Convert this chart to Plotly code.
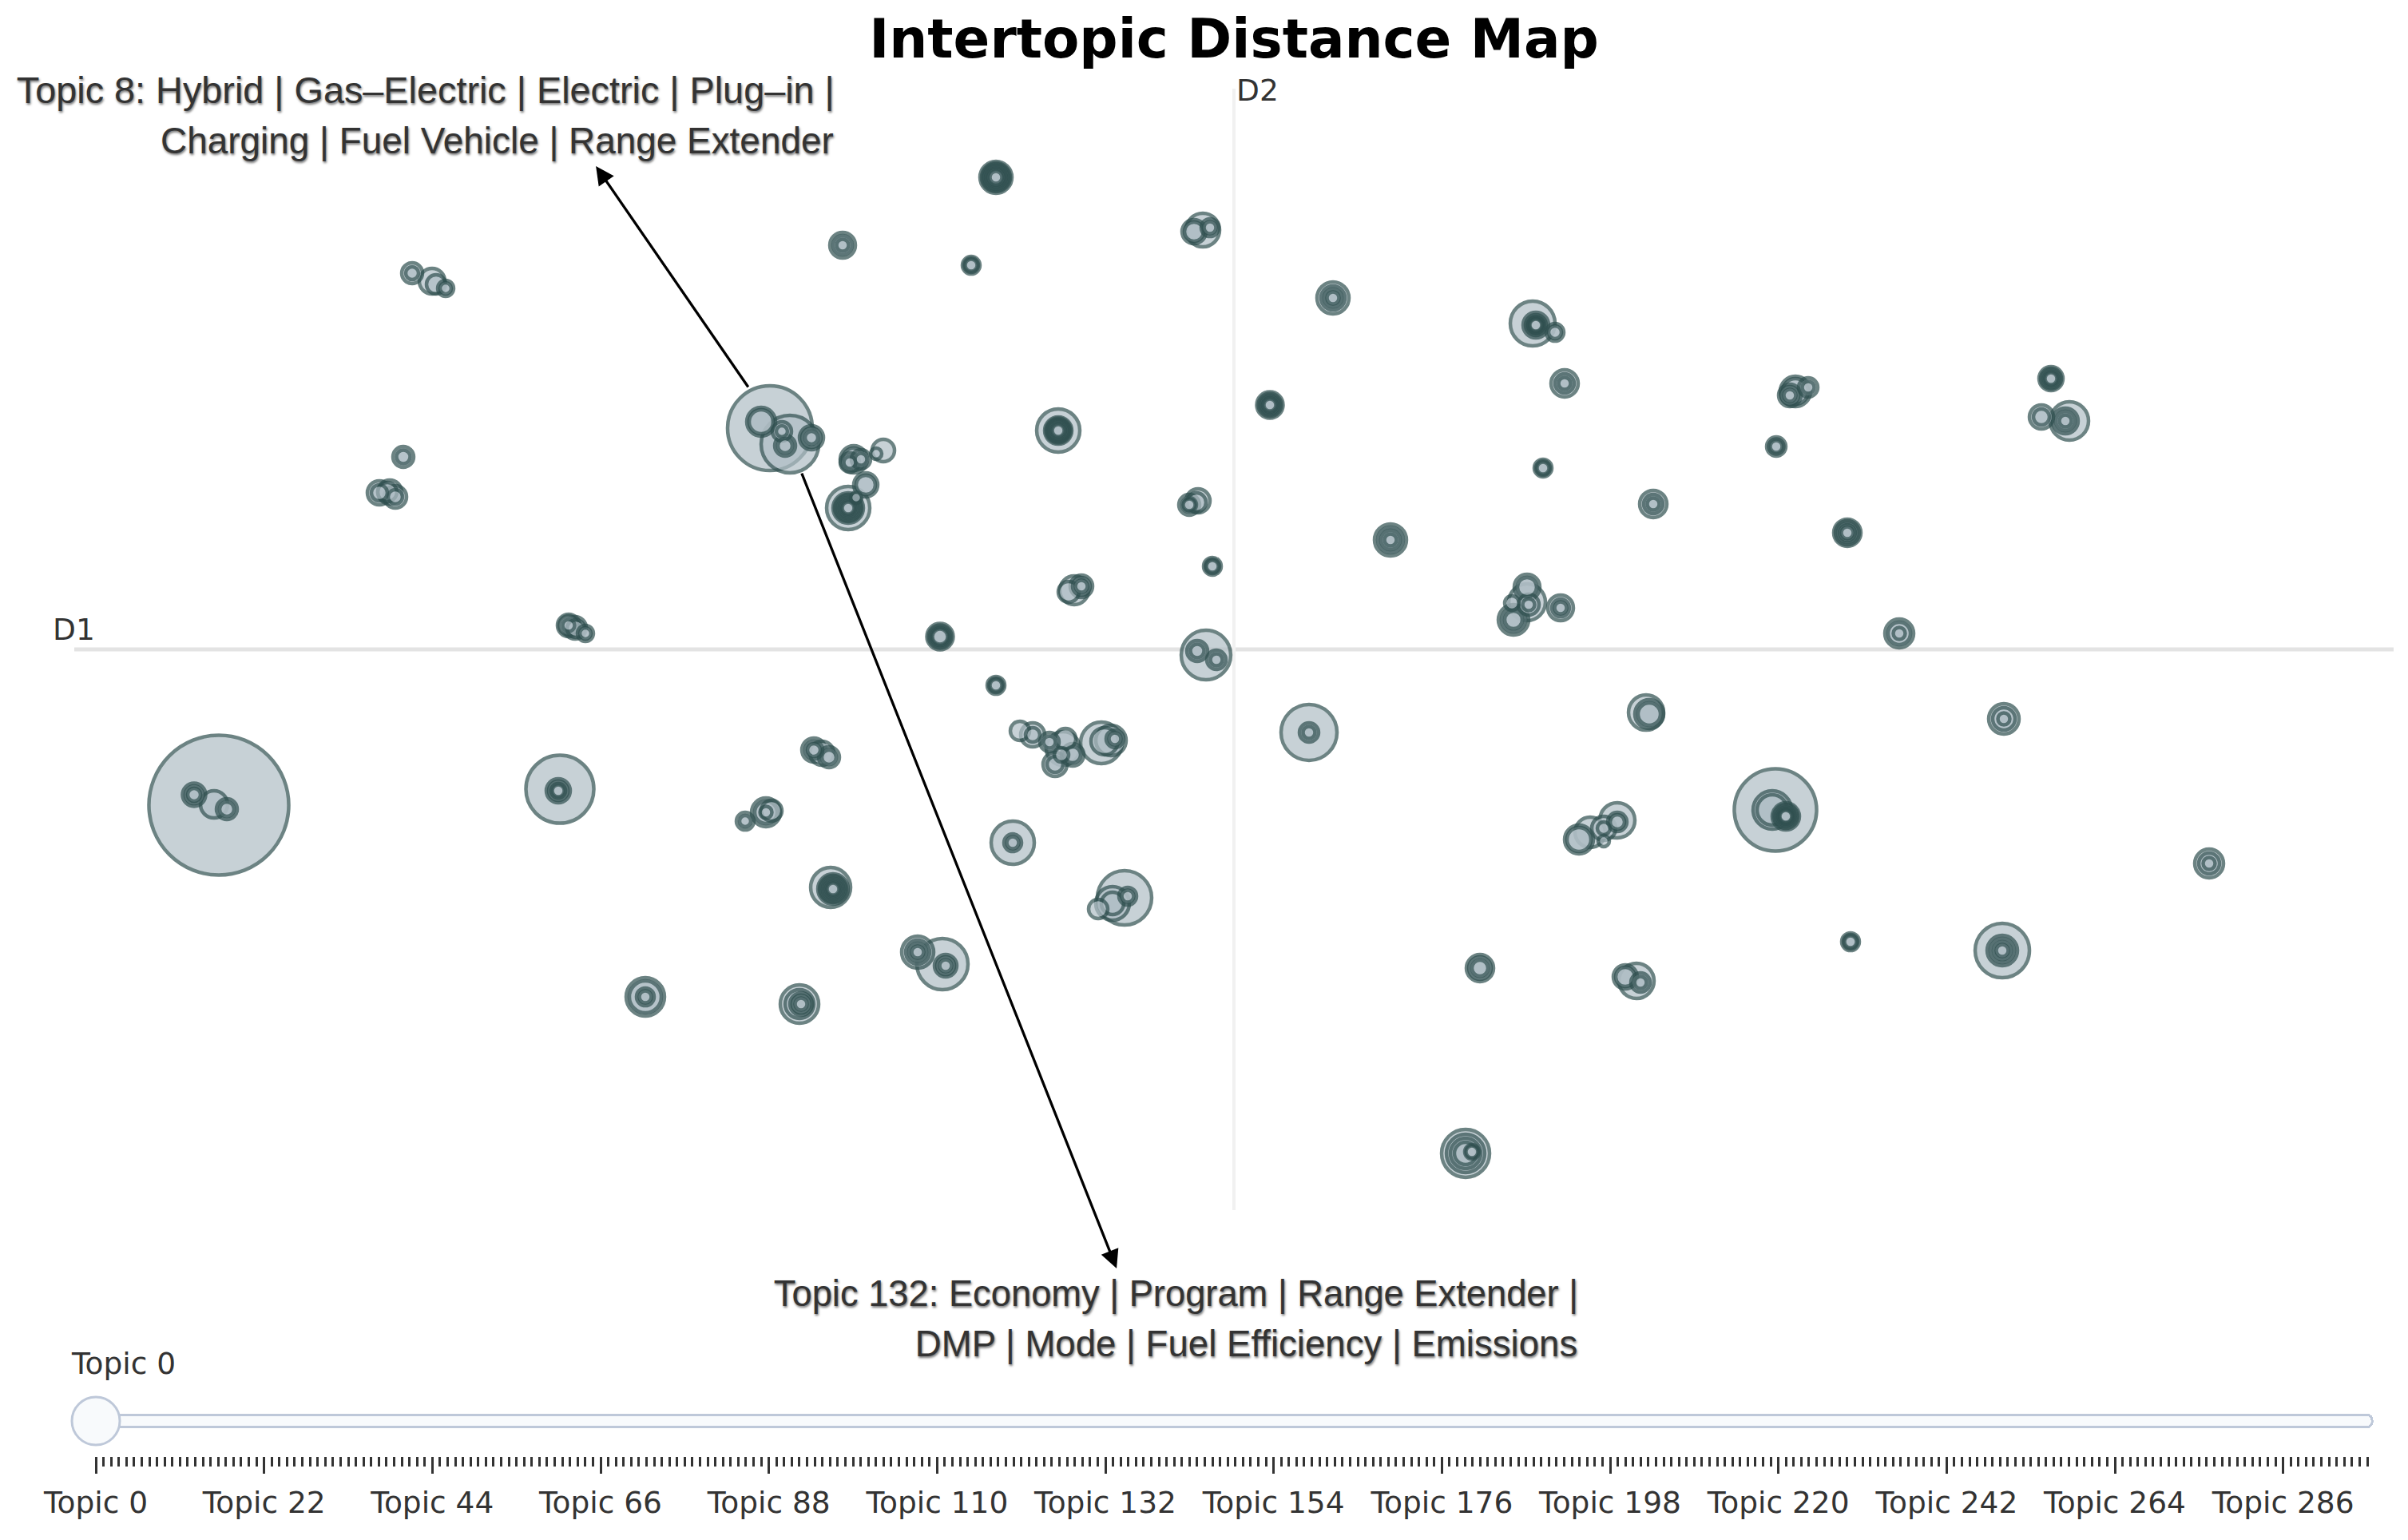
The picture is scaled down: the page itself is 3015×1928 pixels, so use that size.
import plotly.graph_objects as go

# Topic positions on the two map dimensions and topic bubble sizes
topic_x = [
    -12.71, -13.02, -13.02, -13.02, -12.77, -12.61, -12.61,
    -8.44, -8.46, -8.46, -8.46, -8.46,
    -10.29, -10.29, -10.04, -9.99, -9.87, -9.87,
    -10.40, -10.40,
    -10.70, -10.70, -10.57, -10.50, -10.50,
    -8.33, -8.33, -8.24, -8.12, -8.12,
    -5.81, -5.56, -5.92, -5.92, -5.66, -5.66, -5.62, -5.62, -5.29, -5.29, -5.29,
    -4.90, -4.90, -4.90,
    -2.98, -2.98, -2.98, -2.98, -2.98,
    -3.29, -3.29,
    -0.39, -0.50, -0.50, -0.30, -0.30,
    -2.20, -2.20, -2.20, -2.20, -2.20,
    -4.39, -4.48,
    -4.81, -4.81, -4.67, -4.67, -4.76,
    -4.61, -4.61,
    -4.83, -4.83, -4.83, -4.83, -4.83, -4.73,
    -0.56, -0.56, -0.56, -0.45,
    -0.27, -0.27,
    -2.07, -1.91, -1.91, -1.91,
    -3.68, -3.68, -3.68,
    -2.98, -2.98,
    -0.35, -0.46, -0.46, -0.22, -0.22,
    -2.68, -2.52, -2.52, -2.31, -2.31, -2.16, -2.02, -2.02, -2.11, -2.24, -2.24, -2.14,
    -1.66, -1.62, -1.49, -1.49, -1.54,
    -2.77, -2.77, -2.77,
    -1.37, -1.52, -1.52, -1.33, -1.33, -1.70,
    -5.05, -5.02, -5.02, -5.02, -5.02,
    -3.96, -3.96, -3.96, -3.96, -3.65, -3.61, -3.61, -3.61,
    -5.26, -5.26, -5.26, -5.07, -5.07,
    -6.12, -6.12, -5.86, -5.86, -5.86, -5.79,
    -7.37, -7.37, -7.37, -7.37,
    -5.44, -5.44, -5.42, -5.42, -5.42,
    1.24, 1.24, 1.24, 1.24,
    3.74, 3.78, 3.78, 3.78, 3.78, 4.02, 4.02,
    4.14, 4.14, 4.14,
    0.45, 0.45, 0.45, 0.45,
    3.87, 3.87,
    1.96, 1.96, 1.96, 1.96,
    3.67, 3.67, 3.67, 3.69, 3.69, 3.48, 3.50, 3.50, 3.50,
    4.09, 4.09, 4.09,
    7.68, 7.68, 7.68,
    5.16, 5.20, 5.20,
    6.78, 6.74, 6.74, 6.91, 6.91, 6.91, 6.91,
    4.80, 4.80, 4.80, 4.63, 4.63, 4.32, 4.32, 4.46, 4.63,
    7.72, 7.72,
    3.08, 3.08, 3.08,
    5.04, 4.90, 4.90, 5.09, 5.09,
    2.90, 2.90, 2.90, 2.90, 2.98, 2.98,
    7.03, 6.96, 6.96, 7.19, 7.19,
    6.79, 6.79,
    10.23, 10.23, 10.23,
    10.11, 10.11, 10.46, 10.41, 10.41, 10.41,
    8.33, 8.33, 8.33,
    5.25, 5.25, 5.25,
    9.64, 9.64, 9.64,
    12.21, 12.21, 12.21,
    9.62, 9.62, 9.62, 9.62, 9.62,
    0.94, 0.94, 0.94,
    -3.29, -0.27, -2.98, 3.87, 7.72, 6.79,
    -2.98, -2.98, -2.98,
    -3.68, -3.68,
    0.45, 0.45,
    10.23, 10.23,
    7.68, 7.68,
    3.78, 3.78,
    -2.20, -2.20, -2.20,
    6.91, 6.91, 6.91,
    -5.02, -5.02, -5.02,
    -4.83, -4.83, -4.83,
    -2.00, -0.47, 7.03, 6.96, -10.60, -5.16, -8.25, -8.33, -4.76,
]
topic_y = [
    -1.95, -1.82, -1.82, -1.82, -1.94, -2.00, -2.00,
    -1.75, -1.77, -1.77, -1.77, -1.77,
    4.71, 4.71, 4.61, 4.57, 4.52, 4.52,
    2.41, 2.41,
    1.96, 1.96, 1.97, 1.91, 1.91,
    0.30, 0.30, 0.26, 0.20, 0.20,
    2.77, 2.57, 2.85, 2.85, 2.73, 2.73, 2.55, 2.55, 2.65, 2.65, 2.65,
    5.06, 5.06, 5.06,
    5.91, 5.91, 5.91, 5.91, 5.91,
    4.81, 4.81,
    5.25, 5.23, 5.23, 5.28, 5.28,
    2.74, 2.74, 2.74, 2.74, 2.74,
    2.49, 2.45,
    2.34, 2.34, 2.38, 2.38, 2.38,
    2.06, 2.06,
    1.77, 1.77, 1.77, 1.77, 1.77, 1.90,
    1.81, 1.81, 1.81, 1.86,
    1.04, 1.04,
    0.72, 0.79, 0.79, 0.79,
    0.16, 0.16, 0.16,
    -0.45, -0.45,
    -0.07, -0.02, -0.02, -0.13, -0.13,
    -1.02, -1.07, -1.07, -1.16, -1.16, -1.32, -1.32, -1.32, -1.12, -1.44, -1.44, -1.24,
    -1.17, -1.15, -1.12, -1.12, -1.14,
    -2.42, -2.42, -2.42,
    -3.11, -3.18, -3.18, -3.09, -3.09, -3.25,
    -2.98, -3.00, -3.00, -3.00, -3.00,
    -3.79, -3.79, -3.79, -3.79, -3.94, -3.96, -3.96, -3.96,
    -1.26, -1.26, -1.26, -1.35, -1.35,
    -2.15, -2.15, -2.04, -2.04, -2.04, -2.02,
    -4.35, -4.35, -4.35, -4.35,
    -4.44, -4.44, -4.44, -4.44, -4.44,
    4.40, 4.40, 4.40, 4.40,
    4.08, 4.06, 4.06, 4.06, 4.06, 3.97, 3.97,
    3.33, 3.33, 3.33,
    3.06, 3.06, 3.06, 3.06,
    2.27, 2.27,
    1.37, 1.37, 1.37, 1.37,
    0.78, 0.78, 0.59, 0.56, 0.56, 0.58, 0.37, 0.37, 0.37,
    0.52, 0.52, 0.52,
    1.46, 1.46, 1.46,
    -0.79, -0.81, -0.81,
    -2.01, -2.01, -2.01, -2.09, -2.09, -2.09, -2.09,
    -2.14, -2.16, -2.16, -2.24, -2.24, -2.38, -2.38, -2.29, -2.40,
    -3.66, -3.66,
    -3.99, -3.99, -3.99,
    -4.15, -4.10, -4.10, -4.17, -4.17,
    -6.31, -6.31, -6.31, -6.31, -6.29, -6.29,
    3.23, 3.18, 3.18, 3.28, 3.28,
    2.54, 2.54,
    3.39, 3.39, 3.39,
    2.91, 2.91, 2.86, 2.86, 2.86, 2.86,
    0.20, 0.20, 0.20,
    1.82, 1.82, 1.82,
    -0.87, -0.87, -0.87,
    -2.68, -2.68, -2.68,
    -3.77, -3.77, -3.77, -3.77, -3.77,
    -1.04, -1.04, -1.04,
    4.81, 1.04, -0.45, 2.27, -3.66, 2.54,
    5.91, 5.91, 5.91,
    0.16, 0.16,
    3.06, 3.06,
    3.39, 3.39,
    1.46, 1.46,
    4.06, 4.06,
    2.74, 2.74, 2.74,
    -2.09, -2.09, -2.09,
    -3.00, -3.00, -3.00,
    1.77, 1.77, 1.77,
    0.74, 1.84, 3.23, 3.18, 1.97, -1.30, 0.27, 0.30, 2.38,
]
topic_size = [
    175, 29, 22, 16, 34, 26, 18,
    85, 30, 24, 18, 15,
    26, 16, 32, 24, 20, 14,
    26, 17,
    30, 20, 30, 28, 18,
    24, 15, 22, 20, 14,
    106, 72, 36, 30, 24, 14, 26, 18, 30, 24, 16,
    32, 24, 15,
    40, 33, 26, 20, 15,
    22, 15,
    42, 30, 24, 22, 15,
    54, 34, 28, 22, 15,
    28, 14,
    24, 15, 24, 15, 34,
    30, 24,
    54, 38, 30, 22, 15, 14,
    26, 18, 15, 30,
    22, 15,
    26, 28, 22, 15,
    33, 25, 19,
    22, 15,
    62, 26, 17, 24, 15,
    24, 30, 18, 24, 15, 18, 28, 20, 26, 30, 20, 42,
    52, 34, 22, 15, 38,
    54, 22, 15,
    68, 42, 28, 22, 15, 24,
    50, 38, 30, 22, 15,
    40, 30, 22, 15, 64, 28, 22, 15,
    30, 22, 16, 26, 18,
    22, 14, 36, 28, 15, 26,
    48, 40, 22, 15,
    48, 36, 28, 22, 15,
    40, 30, 22, 15,
    56, 32, 26, 20, 15, 22, 16,
    34, 24, 15,
    33, 25, 18, 15,
    22, 15,
    40, 32, 24, 15,
    32, 24, 46, 26, 15, 18, 38, 30, 22,
    32, 22, 15,
    34, 25, 15,
    44, 36, 28,
    103, 48, 38, 34, 26, 20, 15,
    44, 24, 18, 30, 16, 36, 30, 38, 14,
    22, 15,
    34, 28, 20,
    44, 30, 24, 24, 15,
    60, 48, 38, 28, 18, 15,
    38, 28, 15, 24, 15,
    24, 15,
    30, 22, 15,
    30, 20, 48, 32, 24, 15,
    36, 28, 15,
    34, 24, 15,
    38, 28, 15,
    36, 26, 15,
    68, 38, 30, 22, 15,
    70, 24, 15,
    18, 18, 18, 18, 18, 19,
    36, 30, 23,
    29, 22,
    29, 22,
    26, 18,
    30, 20,
    23, 17,
    31, 25, 18,
    30, 23, 17,
    34, 26, 18,
    34, 26, 18,
    36, 24, 32, 22, 24, 30, 28, 28, 28,
]

topic_count = 298
tick_topics = [f"Topic {t}" for t in range(topic_count)]
x_range = [-14.52, 14.52]
y_range = [-7.02, 7.02]

title_text = "Intertopic Distance Map"
label_8 = ["Topic 8: Hybrid | Gas–Electric | Electric | Plug–in |", "Charging | Fuel Vehicle | Range Extender"]
label_132 = ["Topic 132: Economy | Program | Range Extender |", "DMP | Mode | Fuel Efficiency | Emissions"]

# Biggest topics first so small ones stay on top
order = sorted(range(len(topic_size)), key=lambda i: -topic_size[i])

fig = go.Figure(go.Scatter(
    x=[topic_x[i] for i in order],
    y=[topic_y[i] for i in order],
    mode="markers",
    marker=dict(
        size=[topic_size[i] for i in order],
        sizemode="diameter",
        sizeref=3,
        color="#B0BEC5",
        opacity=0.7,
        line=dict(width=1.5, color="DarkSlateGrey"),
    ),
    hoverinfo="skip",
))

# D1 / D2 cross
fig.add_shape(type="line", x0=x_range[0], x1=x_range[1], y0=0, y1=0, layer="below",
              line=dict(color="#E3E3E3", width=1.6))
fig.add_shape(type="line", x0=0, x1=0, y0=y_range[0], y1=y_range[1], layer="below",
              line=dict(color="#F1F1F1", width=1.4))
axis_font = dict(family="DejaVu Sans", size=12.5, color="#333333")
fig.add_annotation(x=x_range[0], y=0, text="D1", showarrow=False, xshift=-0.5, yshift=9, font=axis_font)
fig.add_annotation(x=0, y=y_range[1], text="D2", showarrow=False, xshift=9.5, yshift=-0.5, font=axis_font)

# Labels for the two called out topics
label_shadow = "1px 2px 3px rgba(0,0,0,0.55)"
for text, ypos, fsize in zip(label_8, [0.9985, 0.9545], [15.6, 15.3]):
    fig.add_annotation(xref="paper", yref="paper", x=0.3295, y=ypos, text=text, showarrow=False,
                       xanchor="right", yanchor="middle",
                       font=dict(family="Liberation Sans", size=fsize, color="#333333", shadow=label_shadow))
for text, ypos, fsize in zip(label_132, [-0.0745, -0.1187], [15.1, 15.2]):
    fig.add_annotation(xref="paper", yref="paper", x=0.6505, y=ypos, text=text, showarrow=False,
                       xanchor="right", yanchor="middle",
                       font=dict(family="Liberation Sans", size=fsize, color="#333333", shadow=label_shadow))

# Arrows from the bubbles to the labels
fig.add_annotation(xref="paper", yref="paper", x=0.2249, y=0.931, ax=64.6, ay=93.7, text="",
                   showarrow=True, arrowhead=2, arrowsize=1.4, arrowwidth=1.1, arrowcolor="black")
fig.add_annotation(xref="paper", yref="paper", x=0.4494, y=-0.052, ax=-132, ay=-333.3, text="",
                   showarrow=True, arrowhead=2, arrowsize=1.4, arrowwidth=1.1, arrowcolor="black")

# Slider with one step per topic. Padding on a hidden label sets the label stride.
steps = [dict(label=label, method="skip", args=[]) for label in tick_topics]
steps[1]["label"] = tick_topics[1] + "\u00a0" * 2

fig.update_layout(
    width=1005,
    height=643,
    margin=dict(l=31, r=6, t=37, b=138),
    plot_bgcolor="white",
    paper_bgcolor="white",
    showlegend=False,
    title=dict(text=title_text, x=0.5, xref="paper", xanchor="center", y=0.975, yanchor="middle",
               font=dict(family="DejaVu Sans", size=22.5, color="black", weight="bold")),
    xaxis=dict(range=x_range, visible=False),
    yaxis=dict(range=y_range, visible=False),
    sliders=[dict(
        active=0,
        x=-0.001,
        y=0,
        len=1,
        xanchor="left",
        yanchor="top",
        pad=dict(t=52, b=0, l=0, r=0),
        font=dict(family="DejaVu Sans", size=12.5, color="#333333"),
        currentvalue=dict(visible=True, xanchor="left", offset=11,
                          font=dict(family="DejaVu Sans", size=12.5, color="#333333")),
        steps=steps,
    )],
)

# The page is 3x the layout size
scale_page = """
document.body.style.margin = '0';
document.body.style.overflow = 'hidden';
var plot = document.getElementsByClassName('plotly-graph-div')[0];
plot.style.transformOrigin = '0 0';
plot.style.transform = 'scale(3)';
"""
fig.write_html("out.html", post_script=scale_page, config=dict(displayModeBar=False))
